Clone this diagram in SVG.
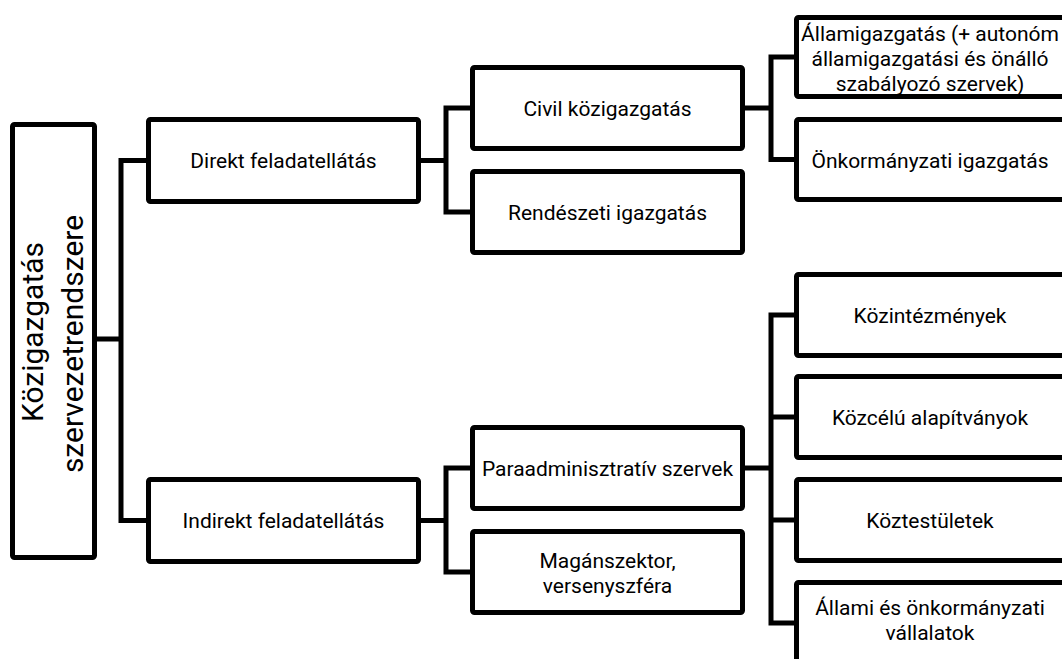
<svg xmlns="http://www.w3.org/2000/svg" width="1062" height="659" viewBox="0 0 1062 659">
<style>
.box{fill:#fff;stroke:#000;stroke-width:5;}
.t{font-family:Roboto,"Liberation Sans",sans-serif;font-size:21px;fill:#000;text-anchor:middle;}
.root{font-family:Roboto,"Liberation Sans",sans-serif;font-size:30px;fill:#000;text-anchor:middle;}
.c{fill:none;stroke:#000;stroke-width:5;stroke-linejoin:miter;}
</style>
<rect width="1062" height="659" fill="#fff"/>
<g id="connectors">
<path class="c" d="M97 339H121M146 160.5H121V520.5H146"/>
<path class="c" d="M421 160.5H446M470 108H446V212H470"/>
<path class="c" d="M421 520.5H446M470 468H446V572H470"/>
<path class="c" d="M745 108H771M795 57H771V159.5H795"/>
<path class="c" d="M745 468H771M795 315H771V623H795M771 417H795M771 520H795"/>
</g>
<g id="root">
<rect class="box" x="12.5" y="124.5" width="82" height="433" rx="2"/>
<text class="root" transform="translate(43,332) rotate(-90)">Közigazgatás</text>
<text class="root" transform="translate(83,344) rotate(-90)">szervezetrendszere</text>
</g>
<g id="direkt">
<rect class="box" x="148.5" y="119.5" width="270" height="82" rx="2"/>
<text class="t" x="283.5" y="168">Direkt feladatellátás</text>
</g>
<g id="indirekt">
<rect class="box" x="148.5" y="479.5" width="270" height="82" rx="2"/>
<text class="t" x="283.5" y="528">Indirekt feladatellátás</text>
</g>
<g id="civil">
<rect class="box" x="472.5" y="67.5" width="270" height="81" rx="2"/>
<text class="t" x="607.5" y="115.5">Civil közigazgatás</text>
</g>
<g id="rendeszeti">
<rect class="box" x="472.5" y="171.5" width="270" height="81" rx="2"/>
<text class="t" x="607.5" y="219.5">Rendészeti igazgatás</text>
</g>
<g id="paraadmin">
<rect class="box" x="472.5" y="427.5" width="270" height="81" rx="2"/>
<text class="t" x="607.5" y="475.5">Paraadminisztratív szervek</text>
</g>
<g id="maganszektor">
<rect class="box" x="472.5" y="531.5" width="270" height="81" rx="2"/>
<text class="t" x="607.5" y="567.5">Magánszektor,</text>
<text class="t" x="607.5" y="592.5">versenyszféra</text>
</g>
<g id="allamigazgatas">
<rect class="box" x="796.5" y="17.5" width="272" height="79" rx="2"/>
<text class="t" x="930" y="40.5">Államigazgatás (+ autonóm</text>
<text class="t" x="930" y="65.5">államigazgatási és önálló</text>
<text class="t" x="930" y="90.5">szabályozó szervek)</text>
</g>
<g id="onkormanyzati">
<rect class="box" x="796.5" y="119.5" width="272" height="80" rx="2"/>
<text class="t" x="930" y="167.5">Önkormányzati igazgatás</text>
</g>
<g id="kozintezmenyek">
<rect class="box" x="796.5" y="274.5" width="272" height="81" rx="2"/>
<text class="t" x="930" y="322.5">Közintézmények</text>
</g>
<g id="kozcelu">
<rect class="box" x="796.5" y="376.5" width="272" height="81" rx="2"/>
<text class="t" x="930" y="424.5">Közcélú alapítványok</text>
</g>
<g id="koztestuletek">
<rect class="box" x="796.5" y="479.5" width="272" height="81" rx="2"/>
<text class="t" x="930" y="527.5">Köztestületek</text>
</g>
<g id="allami">
<rect class="box" x="796.5" y="582.5" width="272" height="82" rx="2"/>
<text class="t" x="930" y="614.5">Állami és önkormányzati</text>
<text class="t" x="930" y="639.5">vállalatok</text>
</g>
</svg>
